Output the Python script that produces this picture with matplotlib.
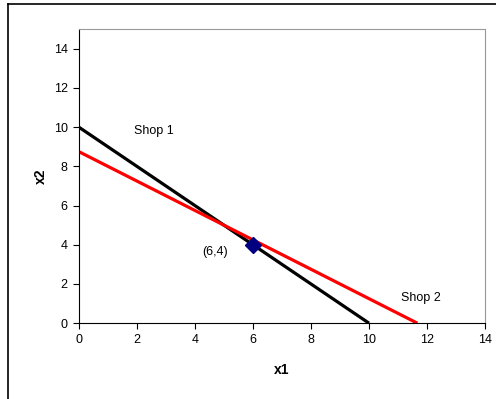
import matplotlib.pyplot as plt
from matplotlib.lines import Line2D

plt.rcParams['font.family'] = ['Liberation Sans', 'DejaVu Sans']

# budget lines for the two shops
shop1_x = [0, 10]
shop1_y = [10, 0]
shop2_x = [0, 35 / 3]
shop2_y = [8.75, 0]
point_x = [6]
point_y = [4]
ticks = [0, 2, 4, 6, 8, 10, 12, 14]

fig = plt.figure(figsize=(4.96, 3.99), dpi=100)
ax = fig.add_axes([0.159, 0.190, 0.819, 0.737])

ax.plot(shop1_x, shop1_y, color='black', lw=2.3, solid_capstyle='butt')
ax.plot(shop2_x, shop2_y, color='red', lw=2.3, solid_capstyle='butt')
ax.plot(point_x, point_y, marker='D', color='#000080', markersize=8, ls='none')

ax.text(2.6, 9.8, "Shop 1", fontsize=9, ha='center', va='center')
ax.text(11.8, 1.27, "Shop 2", fontsize=9, ha='center', va='center')
ax.text(4.69, 3.62, "(6,4)", fontsize=9, ha='center', va='center')

ax.set_xlim(0, 14)
ax.set_ylim(0, 15)
ax.set_xticks(ticks)
ax.set_yticks(ticks)
ax.tick_params(direction='out', length=4, width=0.8, labelsize=9, pad=4)
ax.set_xlabel("x1", fontsize=10, fontweight='bold', labelpad=12)
ax.set_ylabel("x2", fontsize=10, fontweight='bold', labelpad=4)

for s in ['top', 'right']:
    ax.spines[s].set_color('#999999')
for s in ['bottom', 'left']:
    ax.spines[s].set_color('black')

# outer frame on the left and top
fig.add_artist(Line2D([8 / 496, 8 / 496], [0, 1 - 4 / 399], color='black', lw=1.2,
                      transform=fig.transFigure))
fig.add_artist(Line2D([8 / 496, 1], [1 - 4 / 399, 1 - 4 / 399], color='black', lw=1.2,
                      transform=fig.transFigure))

fig.savefig("out.png", dpi=100)
